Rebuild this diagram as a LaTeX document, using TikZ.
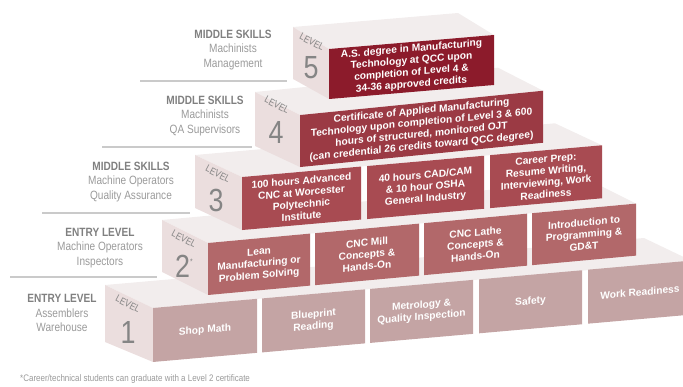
\documentclass[tikz,border=0pt]{standalone}
\usepackage{fontspec}
\setmainfont{Liberation Sans}
\newfontfamily\condfont{Liberation Sans}[FakeStretch=0.84]
\definecolor{lvone}{HTML}{C4A4A4}
\definecolor{lvtwo}{HTML}{B2686A}
\definecolor{lvthree}{HTML}{A84B52}
\definecolor{lvfour}{HTML}{9B3A44}
\definecolor{lvfive}{HTML}{8C1B2B}
\definecolor{sidepink}{HTML}{EBDEDE}
\definecolor{toppale}{HTML}{F2EDED}
\definecolor{levgray}{HTML}{858585}
\definecolor{labgray}{HTML}{9A9A9A}
\definecolor{labdark}{HTML}{808080}
\definecolor{linegray}{HTML}{CACACA}

\begin{document}
\begin{tikzpicture}[x=1pt,y=-1pt,
    panel/.style={fill=#1,text=white,align=center,inner sep=0pt,
      font=\fontsize{10.2}{11.8}\selectfont\bfseries},
    sideface/.style={fill=sidepink},
    topface/.style={fill=toppale},
    levelword/.style={text=levgray,rotate=-28,font=\condfont\fontsize{10}{10}\selectfont},
    levelnum/.style={text=levgray,font=\condfont\fontsize{32}{32}\selectfont},
    tier/.style={align=center,text=labgray,font=\condfont\fontsize{12}{14.5}\selectfont},
    tierline/.style={draw=linegray,line width=1.3pt}]
    \useasboundingbox (0,0) rectangle (683,387);
    % tier labels
    \node[tier] (tierfive) at (233,50) {{\bfseries\color{labdark}MIDDLE SKILLS}\\Machinists\\Management};
    \node[tier] (tierfour) at (205,116) {{\bfseries\color{labdark}MIDDLE SKILLS}\\Machinists\\QA Supervisors};
    \node[tier] (tierthree) at (131,182) {{\bfseries\color{labdark}MIDDLE SKILLS}\\Machine Operators\\Quality Assurance};
    \node[tier] (tiertwo) at (100,248) {{\bfseries\color{labdark}ENTRY LEVEL}\\Machine Operators\\Inspectors};
    \node[tier] (tierone) at (62,313) {{\bfseries\color{labdark}ENTRY LEVEL}\\Assemblers\\Warehouse};
    \draw[tierline] (140,81) -- (287,81);
    \draw[tierline] (102,147) -- (252,147);
    \draw[tierline] (42,213) -- (190,213);
    \draw[tierline] (10,277) -- (157,277);
    % level 1
    \fill[topface] (105,285) -- (153,308) -- (692,261) -- (644,238) -- cycle;
    \fill[sideface] (105,285) -- (153,308) -- (153,362) -- (105,342) -- cycle;
    \node[levelword] (lvonew) at (128,304) {LEVEL};
    \node[levelnum] (lvonen) at (128,332) {1};
    \node[panel=lvone,yslant=0.088,minimum width=104,minimum height=54] (shopmath) at (205,330.4) {Shop Math};
    \node[panel=lvone,yslant=0.088,minimum width=103,minimum height=54] (blueprint) at (313.5,320.9) {Blueprint\\Reading};
    \node[panel=lvone,yslant=0.088,minimum width=103,minimum height=54] (metrology) at (421.5,311.4) {Metrology \&\\Quality Inspection};
    \node[panel=lvone,yslant=0.088,minimum width=103,minimum height=54] (safety) at (530.5,301.8) {Safety};
    \node[panel=lvone,yslant=0.088,minimum width=104,minimum height=54] (workready) at (640,292.1) {Work Readiness};
    % level 2
    \fill[topface] (162,220) -- (208,243) -- (636,203.6) -- (590,180.6) -- cycle;
    \fill[sideface] (162,220) -- (208,243) -- (208,295) -- (162,272) -- cycle;
    \node[levelword] (lvtwow) at (184,239) {LEVEL};
    \node[levelnum] (lvtwon) at (184,266) {2\raisebox{13pt}{\fontsize{8}{8}\selectfont*}};
    \node[panel=lvtwo,yslant=0.092,minimum width=102,minimum height=52] (lean) at (259,264.3) {Lean\\Manufacturing or\\Problem Solving};
    \node[panel=lvtwo,yslant=0.092,minimum width=104,minimum height=52] (cncmill) at (367,254.4) {CNC Mill\\Concepts \&\\Hands-On};
    \node[panel=lvtwo,yslant=0.092,minimum width=103,minimum height=52] (cnclathe) at (475.5,244.4) {CNC Lathe\\Concepts \&\\Hands-On};
    \node[panel=lvtwo,yslant=0.092,minimum width=104,minimum height=52] (intro) at (584,234.4) {Introduction to\\Programming \&\\GD\&T};
    % level 3
    \fill[topface] (195,155) -- (242,177) -- (602,145.3) -- (555,123.3) -- cycle;
    \fill[sideface] (195,155) -- (242,177) -- (242,230) -- (195,208) -- cycle;
    \node[levelword] (lvthreew) at (218,174) {LEVEL};
    \node[levelnum] (lvthreen) at (216,200) {3};
    \node[panel=lvthree,yslant=0.088,minimum width=119,minimum height=53] (advcnc) at (301.5,198.3) {100 hours Advanced\\CNC at Worcester\\Polytechnic\\Institute};
    \node[panel=lvthree,yslant=0.088,minimum width=117,minimum height=53] (cadcam) at (425.5,187.4) {40 hours CAD/CAM\\\& 10 hour OSHA\\General Industry};
    \node[panel=lvthree,yslant=0.088,minimum width=112,minimum height=53] (career) at (546,176.7) {Career Prep:\\Resume Writing,\\Interviewing, Work\\Readiness};
    % level 4
    \fill[topface] (255,92) -- (300,115) -- (543,90.7) -- (498,67.7) -- cycle;
    \fill[sideface] (255,92) -- (300,115) -- (300,167) -- (255,146) -- cycle;
    \node[levelword] (lvfourw) at (277,105) {LEVEL};
    \node[levelnum] (lvfourn) at (276,132) {4};
    \node[panel=lvfour,yslant=0.1,minimum width=243,minimum height=52] (certif) at (421.5,128.9) {Certificate of Applied Manufacturing\\Technology upon completion of Level 3 \& 600\\hours of structured, monitored OJT\\(can credential 26 credits toward QCC degree)};
    % level 5
    \fill[topface] (293,27) -- (329,49) -- (494,35) -- (458,13) -- cycle;
    \fill[sideface] (293,27) -- (329,49) -- (329,99) -- (293,79) -- cycle;
    \node[levelword] (lvfivew) at (312,42) {LEVEL};
    \node[levelnum] (lvfiven) at (311,68) {5};
    \node[panel=lvfive,yslant=0.085,minimum width=165,minimum height=50] (degree) at (411.5,67) {A.S. degree in Manufacturing\\Technology at QCC upon\\completion of Level 4 \&\\34-36 approved credits};
    % footnote
    \node[anchor=west,inner sep=0pt,text=labgray,font=\condfont\fontsize{9.5}{9.5}\selectfont] (footnote) at (20,379) {*Career/technical students can graduate with a Level 2 certificate};
\end{tikzpicture}
\end{document}
